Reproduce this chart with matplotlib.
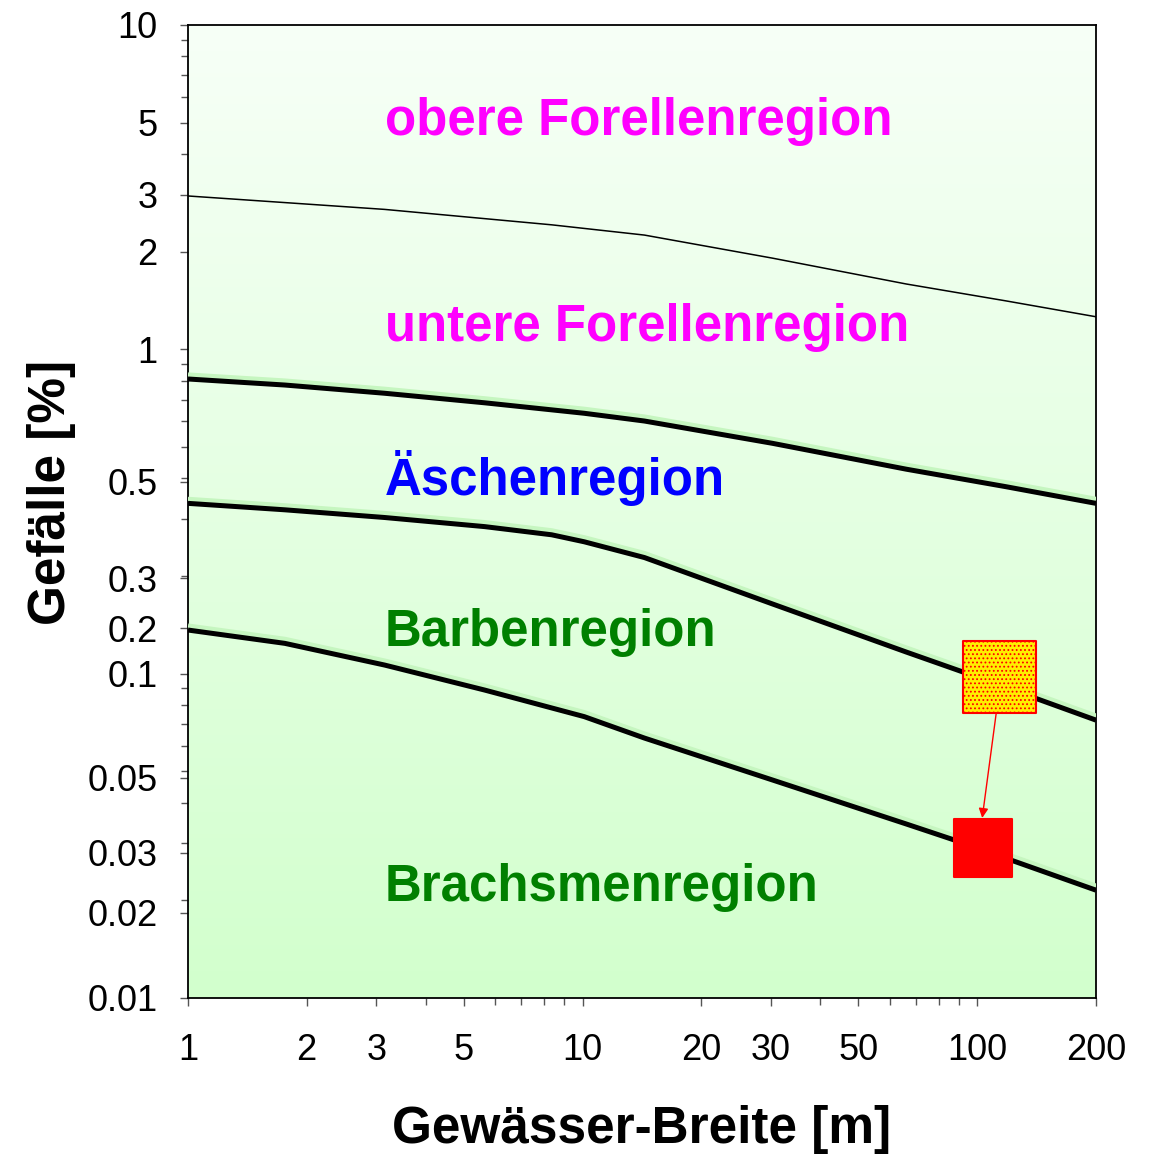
import numpy as np
import matplotlib
matplotlib.use('Agg')
import matplotlib.pyplot as plt
import matplotlib.patheffects as pe
from matplotlib.ticker import FixedLocator, NullFormatter, LogLocator
from matplotlib.colors import LinearSegmentedColormap

plt.rcParams['font.family'] = ['Liberation Sans', 'DejaVu Sans']
plt.rcParams['hatch.linewidth'] = 0.8

# river width [m] where the boundary curves were read
w_thin = [1, 3.15, 8.35, 14.35, 30.3, 66.1, 118.4, 200]
w_b1 = [1, 1.76, 3.15, 5.65, 10.1, 14.35, 30.3, 66.1, 118.4, 200]
w_b2 = [1, 1.76, 3.15, 5.65, 8.35, 10.1, 14.35, 30.3, 66.1, 91.6, 200]
w_b3 = [1, 1.76, 3.15, 5.65, 10.1, 14.35, 30.3, 66.1, 87.5, 200]

# slope [%] of the region boundaries
upper_trout = [2.97, 2.70, 2.42, 2.25, 1.91, 1.59, 1.41, 1.26]
lower_trout = [0.810, 0.776, 0.732, 0.684, 0.635, 0.601, 0.513, 0.427, 0.377, 0.335]
grayling = [0.335, 0.320, 0.303, 0.284, 0.268, 0.255, 0.228, 0.164, 0.1166, 0.1014, 0.0719]
barbel = [0.1363, 0.124, 0.1063, 0.0890, 0.0737, 0.0633, 0.0470, 0.0344, 0.0307, 0.0215]

region_names = ['obere Forellenregion', 'untere Forellenregion', 'Äschenregion',
                'Barbenregion', 'Brachsmenregion']
region_y = [5.05, 1.17, 0.40, 0.134, 0.0219]
region_col = ['#ff00ff', '#ff00ff', '#0000ff', '#008000', '#008000']

# before / after point
pt_before = (113.7, 0.0976)
pt_after = (103.5, 0.029)

xtick_vals = [1, 2, 3, 5, 10, 20, 30, 50, 100, 200]
ytick_pos = [10, 5, 3, 2, 1, 0.39, 0.197, 0.138, 0.1, 0.0477, 0.028, 0.0183, 0.01]
ytick_text = ['10', '5', '3', '2', '1', '0.5', '0.3', '0.2', '0.1',
              '0.05', '0.03', '0.02', '0.01']

fig = plt.figure(figsize=(11.53, 11.61), dpi=100)
ax = fig.add_axes([0.163, 0.1404, 0.7875, 0.8381])
ax.set_xscale('log')
ax.set_yscale('log')
ax.set_xlim(1, 200)
ax.set_ylim(0.01, 10)

# green gradient background
cmap = LinearSegmentedColormap.from_list('bg', ['#d2ffcd', '#f7fff7'])
grad = np.linspace(0, 1, 256).reshape(-1, 1)
ax.imshow(grad, cmap=cmap, aspect='auto', extent=[0, 1, 0, 1],
          transform=ax.transAxes, origin='lower', zorder=0)

shadow = [pe.SimpleLineShadow(offset=(0, 2.5), shadow_color='#c6f6c0', alpha=1, linewidth=4.5),
          pe.Normal()]
ax.plot(w_thin, upper_trout, color='black', lw=1.1, zorder=3)
for wx, yy in [(w_b1, lower_trout), (w_b2, grayling), (w_b3, barbel)]:
    ax.plot(wx, yy, color='black', lw=3.6, zorder=3, path_effects=shadow,
            solid_capstyle='butt', solid_joinstyle='round')

for name, yv, c in zip(region_names, region_y, region_col):
    ax.text(3.15, yv, name, color=c, fontsize=36.7, fontweight='bold',
            ha='left', va='center', zorder=4)

ax.scatter([pt_before[0]], [pt_before[1]], marker='s', s=2750, facecolor='#ffee00',
           edgecolor='red', hatch='....', linewidth=1.5, zorder=5)
ax.scatter([pt_after[0]], [pt_after[1]], marker='s', s=1700, facecolor='red',
           edgecolor='red', linewidth=1.5, zorder=5)
ax.annotate('', xy=(103, 0.0359), xytext=(111.7, 0.0751),
            arrowprops=dict(arrowstyle='-|>', color='red', lw=1, mutation_scale=14,
                            shrinkA=0, shrinkB=0), zorder=6)

ax.xaxis.set_major_locator(FixedLocator(xtick_vals))
ax.set_xticklabels([str(v) for v in xtick_vals])
ax.xaxis.set_minor_locator(LogLocator(base=10, subs=np.arange(2, 10)))
ax.xaxis.set_minor_formatter(NullFormatter())
ax.yaxis.set_major_locator(FixedLocator(ytick_pos))
ax.set_yticklabels(ytick_text)
ax.yaxis.set_minor_locator(LogLocator(base=10, subs=np.arange(2, 10)))
ax.yaxis.set_minor_formatter(NullFormatter())

ax.tick_params(axis='both', which='both', direction='out', color='#555555', width=1)
ax.tick_params(axis='both', which='major', length=6, labelsize=26)
ax.tick_params(axis='both', which='minor', length=5)
ax.tick_params(axis='x', which='major', pad=19)
ax.tick_params(axis='y', which='major', pad=16)

for s in ax.spines.values():
    s.set_linewidth(1.3)
    s.set_color('black')

ax.set_xlabel('Gewässer-Breite [m]', fontsize=37, fontweight='bold', labelpad=27)
ax.set_ylabel('Gefälle [%]', fontsize=37, fontweight='bold')
ax.yaxis.set_label_coords(-0.123, 0.52)

fig.savefig('out.png', dpi=100)
